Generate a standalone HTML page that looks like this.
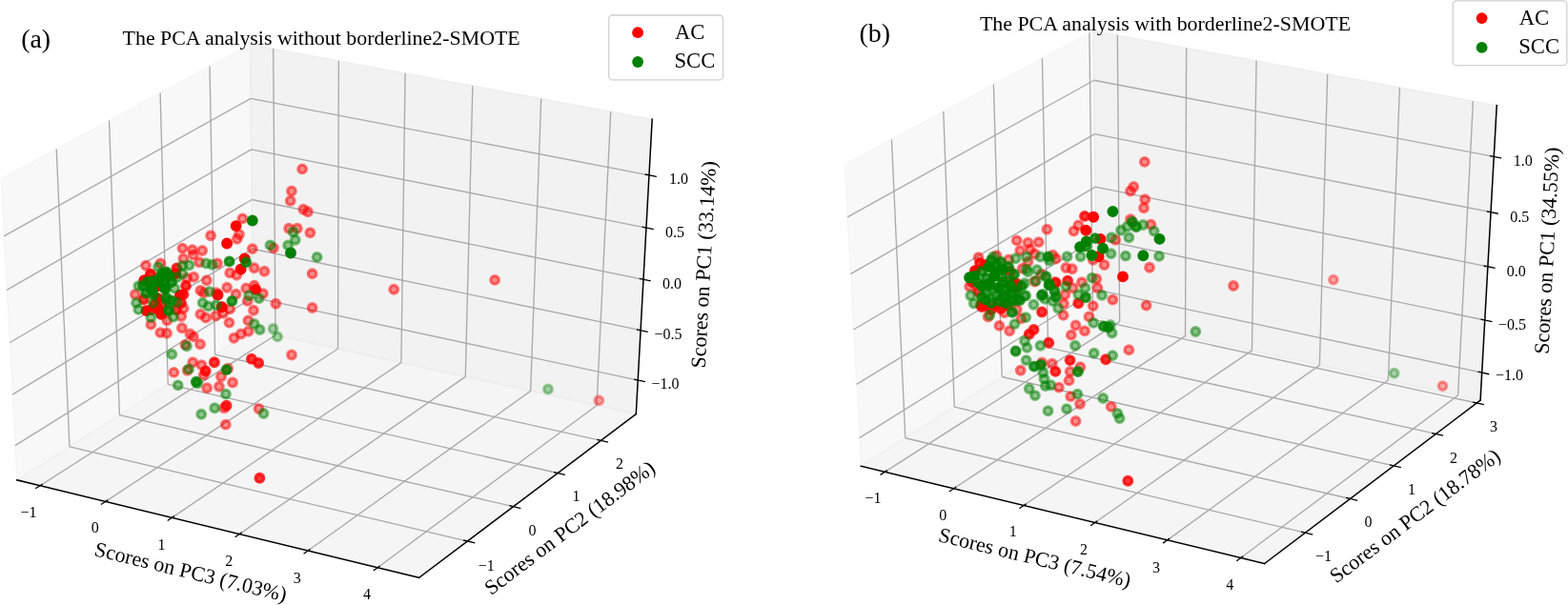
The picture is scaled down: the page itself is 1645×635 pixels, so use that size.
<!DOCTYPE html>
<html><head><meta charset="utf-8"><style>
html,body{margin:0;padding:0;background:#fff;}
svg{display:block;}
.px{fill:#f2f2f2;stroke:#f2f2f2;stroke-width:1.2;fill-opacity:.5;stroke-opacity:.5}
.py{fill:#e6e6e6;stroke:#e6e6e6;stroke-width:1.2;fill-opacity:.5;stroke-opacity:.5}
.pz{fill:#ececec;stroke:#ececec;stroke-width:1.2;fill-opacity:.5;stroke-opacity:.5}
.gr{stroke:#aaaaaa;stroke-width:1.35}
.ax{stroke:#000;stroke-width:1.5;stroke-linecap:square}
.tk{stroke:#000;stroke-width:1.3}
text{font-family:"Liberation Serif","Times New Roman",serif;fill:#000}
.tl{font-size:16px;text-anchor:middle}
.al{font-size:22px;text-anchor:middle}
.r{fill:#ff0000;stroke:#ff0000;stroke-width:3.3}
.g{fill:#008000;stroke:#008000;stroke-width:3.3}
</style></head><body>
<svg width="1645" height="635" viewBox="0 0 1645 635">
<polygon class="px" points="17.80,503.83 265.86,346.62 262.37,46.52 0.91,187.81"/>
<polygon class="py" points="265.86,346.62 667.29,434.58 684.18,125.12 262.37,46.52"/>
<polygon class="pz" points="17.80,503.83 439.70,606.32 667.29,434.58 265.86,346.62"/>
<line class="gr" x1="42.08" y1="509.73" x2="289.04" y2="351.70"/>
<line class="gr" x1="289.04" y1="351.70" x2="286.67" y2="51.05"/>
<line class="gr" x1="110.72" y1="526.40" x2="354.51" y2="366.04"/>
<line class="gr" x1="354.51" y1="366.04" x2="355.36" y2="63.85"/>
<line class="gr" x1="180.42" y1="543.33" x2="420.92" y2="380.59"/>
<line class="gr" x1="420.92" y1="380.59" x2="425.08" y2="76.84"/>
<line class="gr" x1="251.21" y1="560.53" x2="488.29" y2="395.36"/>
<line class="gr" x1="488.29" y1="395.36" x2="495.86" y2="90.03"/>
<line class="gr" x1="323.12" y1="578.00" x2="556.64" y2="410.33"/>
<line class="gr" x1="556.64" y1="410.33" x2="567.73" y2="103.42"/>
<line class="gr" x1="396.17" y1="595.75" x2="626.01" y2="425.53"/>
<line class="gr" x1="626.01" y1="425.53" x2="640.71" y2="117.02"/>
<line class="gr" x1="72.95" y1="468.88" x2="490.43" y2="568.04"/>
<line class="gr" x1="72.95" y1="468.88" x2="59.20" y2="156.31"/>
<line class="gr" x1="125.37" y1="435.66" x2="538.58" y2="531.70"/>
<line class="gr" x1="125.37" y1="435.66" x2="114.53" y2="126.41"/>
<line class="gr" x1="176.22" y1="403.43" x2="585.22" y2="496.51"/>
<line class="gr" x1="176.22" y1="403.43" x2="168.11" y2="97.46"/>
<line class="gr" x1="225.56" y1="372.16" x2="630.42" y2="462.41"/>
<line class="gr" x1="225.56" y1="372.16" x2="220.02" y2="69.41"/>
<line class="gr" x1="15.87" y1="467.63" x2="265.46" y2="312.13"/>
<line class="gr" x1="265.46" y1="312.13" x2="669.23" y2="399.08"/>
<line class="gr" x1="13.01" y1="414.15" x2="264.87" y2="261.23"/>
<line class="gr" x1="264.87" y1="261.23" x2="672.09" y2="346.66"/>
<line class="gr" x1="10.10" y1="359.71" x2="264.27" y2="209.48"/>
<line class="gr" x1="264.27" y1="209.48" x2="675.00" y2="293.33"/>
<line class="gr" x1="7.14" y1="304.29" x2="263.66" y2="156.87"/>
<line class="gr" x1="263.66" y1="156.87" x2="677.96" y2="239.06"/>
<line class="gr" x1="4.12" y1="247.85" x2="263.03" y2="103.36"/>
<line class="gr" x1="263.03" y1="103.36" x2="680.98" y2="183.84"/>
<line class="ax" x1="17.80" y1="503.83" x2="439.70" y2="606.32"/>
<line class="ax" x1="439.70" y1="606.32" x2="667.29" y2="434.58"/>
<line class="ax" x1="667.29" y1="434.58" x2="684.18" y2="125.12"/>
<line class="tk" x1="37.29" y1="512.80" x2="44.74" y2="508.03"/>
<line class="tk" x1="105.98" y1="529.52" x2="113.34" y2="524.68"/>
<line class="tk" x1="175.75" y1="546.50" x2="183.01" y2="541.58"/>
<line class="tk" x1="246.60" y1="563.74" x2="253.77" y2="558.75"/>
<line class="tk" x1="318.58" y1="581.26" x2="325.64" y2="576.19"/>
<line class="tk" x1="391.70" y1="599.06" x2="398.65" y2="593.91"/>
<line class="tk" x1="498.30" y1="569.91" x2="486.06" y2="567.00"/>
<line class="tk" x1="546.37" y1="533.51" x2="534.26" y2="530.70"/>
<line class="tk" x1="592.92" y1="498.26" x2="580.95" y2="495.54"/>
<line class="tk" x1="638.03" y1="464.11" x2="626.19" y2="461.47"/>
<line class="tk" x1="676.83" y1="400.72" x2="665.02" y2="398.17"/>
<line class="tk" x1="679.75" y1="348.27" x2="667.84" y2="345.77"/>
<line class="tk" x1="682.73" y1="294.91" x2="670.71" y2="292.46"/>
<line class="tk" x1="685.77" y1="240.61" x2="673.63" y2="238.21"/>
<line class="tk" x1="688.85" y1="185.35" x2="676.61" y2="183.00"/>
<polygon class="px" points="903.18,489.29 1150.75,332.41 1147.23,32.13 886.10,172.83"/>
<polygon class="py" points="1150.75,332.41 1553.09,420.12 1570.25,110.66 1147.23,32.13"/>
<polygon class="pz" points="903.18,489.29 1326.62,591.51 1553.09,420.12 1150.75,332.41"/>
<line class="gr" x1="928.27" y1="495.35" x2="1174.66" y2="337.63"/>
<line class="gr" x1="1174.66" y1="337.63" x2="1172.32" y2="36.79"/>
<line class="gr" x1="1000.58" y1="512.80" x2="1243.53" y2="352.64"/>
<line class="gr" x1="1243.53" y1="352.64" x2="1244.62" y2="50.21"/>
<line class="gr" x1="1074.05" y1="530.54" x2="1313.43" y2="367.88"/>
<line class="gr" x1="1313.43" y1="367.88" x2="1318.05" y2="63.84"/>
<line class="gr" x1="1148.72" y1="548.56" x2="1384.38" y2="383.35"/>
<line class="gr" x1="1384.38" y1="383.35" x2="1392.65" y2="77.69"/>
<line class="gr" x1="1224.61" y1="566.88" x2="1456.41" y2="399.05"/>
<line class="gr" x1="1456.41" y1="399.05" x2="1468.43" y2="91.76"/>
<line class="gr" x1="1301.76" y1="585.50" x2="1529.54" y2="414.99"/>
<line class="gr" x1="1529.54" y1="414.99" x2="1545.44" y2="106.06"/>
<line class="gr" x1="949.77" y1="459.77" x2="1369.37" y2="559.16"/>
<line class="gr" x1="949.77" y1="459.77" x2="935.40" y2="146.27"/>
<line class="gr" x1="1001.23" y1="427.16" x2="1416.50" y2="523.49"/>
<line class="gr" x1="1001.23" y1="427.16" x2="989.76" y2="116.98"/>
<line class="gr" x1="1051.14" y1="395.53" x2="1462.15" y2="488.94"/>
<line class="gr" x1="1051.14" y1="395.53" x2="1042.40" y2="88.61"/>
<line class="gr" x1="1099.58" y1="364.84" x2="1506.41" y2="455.45"/>
<line class="gr" x1="1099.58" y1="364.84" x2="1093.42" y2="61.12"/>
<line class="gr" x1="1146.61" y1="335.04" x2="1549.32" y2="422.98"/>
<line class="gr" x1="1146.61" y1="335.04" x2="1142.88" y2="34.47"/>
<line class="gr" x1="901.58" y1="459.67" x2="1150.42" y2="304.21"/>
<line class="gr" x1="1150.42" y1="304.21" x2="1554.70" y2="391.11"/>
<line class="gr" x1="898.54" y1="403.39" x2="1149.79" y2="250.67"/>
<line class="gr" x1="1149.79" y1="250.67" x2="1557.75" y2="336.01"/>
<line class="gr" x1="895.45" y1="346.02" x2="1149.15" y2="196.18"/>
<line class="gr" x1="1149.15" y1="196.18" x2="1560.87" y2="279.89"/>
<line class="gr" x1="892.29" y1="287.54" x2="1148.50" y2="140.71"/>
<line class="gr" x1="1148.50" y1="140.71" x2="1564.04" y2="222.71"/>
<line class="gr" x1="889.07" y1="227.92" x2="1147.84" y2="84.24"/>
<line class="gr" x1="1147.84" y1="84.24" x2="1567.27" y2="164.46"/>
<line class="ax" x1="903.18" y1="489.29" x2="1326.62" y2="591.51"/>
<line class="ax" x1="1326.62" y1="591.51" x2="1553.09" y2="420.12"/>
<line class="ax" x1="1553.09" y1="420.12" x2="1570.25" y2="110.66"/>
<line class="tk" x1="923.48" y1="498.41" x2="930.92" y2="493.65"/>
<line class="tk" x1="995.85" y1="515.92" x2="1003.19" y2="511.08"/>
<line class="tk" x1="1069.39" y1="533.70" x2="1076.63" y2="528.79"/>
<line class="tk" x1="1144.13" y1="551.78" x2="1151.26" y2="546.78"/>
<line class="tk" x1="1220.09" y1="570.15" x2="1227.11" y2="565.07"/>
<line class="tk" x1="1297.32" y1="588.83" x2="1304.22" y2="583.66"/>
<line class="tk" x1="1377.27" y1="561.03" x2="1364.98" y2="558.12"/>
<line class="tk" x1="1424.32" y1="525.31" x2="1412.16" y2="522.49"/>
<line class="tk" x1="1469.89" y1="490.70" x2="1457.86" y2="487.96"/>
<line class="tk" x1="1514.06" y1="457.16" x2="1502.16" y2="454.51"/>
<line class="tk" x1="1556.89" y1="424.63" x2="1545.12" y2="422.06"/>
<line class="tk" x1="1562.30" y1="392.75" x2="1550.48" y2="390.21"/>
<line class="tk" x1="1565.43" y1="337.62" x2="1553.50" y2="335.12"/>
<line class="tk" x1="1568.61" y1="281.46" x2="1556.57" y2="279.01"/>
<line class="tk" x1="1571.86" y1="224.26" x2="1559.70" y2="221.86"/>
<line class="tk" x1="1575.16" y1="165.97" x2="1562.88" y2="163.62"/>
<circle class="r" cx="628.3" cy="420.3" r="4.3" fill-opacity="0.312" stroke-opacity="0.368"/>
<circle class="r" cx="254.4" cy="229.4" r="4.3" fill-opacity="0.429" stroke-opacity="0.506"/>
<circle class="r" cx="251.0" cy="246.0" r="4.3" fill-opacity="0.429" stroke-opacity="0.506"/>
<circle class="r" cx="248.7" cy="250.7" r="4.3" fill-opacity="0.429" stroke-opacity="0.506"/>
<circle class="r" cx="221.1" cy="247.3" r="4.3" fill-opacity="0.429" stroke-opacity="0.506"/>
<circle class="r" cx="264.8" cy="261.1" r="4.3" fill-opacity="0.429" stroke-opacity="0.506"/>
<circle class="r" cx="286.9" cy="260.2" r="4.3" fill-opacity="0.429" stroke-opacity="0.506"/>
<circle class="r" cx="191.4" cy="260.6" r="4.3" fill-opacity="0.429" stroke-opacity="0.506"/>
<circle class="r" cx="201.8" cy="262.1" r="4.3" fill-opacity="0.429" stroke-opacity="0.506"/>
<circle class="r" cx="212.2" cy="263.0" r="4.3" fill-opacity="0.429" stroke-opacity="0.506"/>
<circle class="r" cx="202.8" cy="267.4" r="4.3" fill-opacity="0.429" stroke-opacity="0.506"/>
<circle class="r" cx="192.4" cy="271.5" r="4.3" fill-opacity="0.429" stroke-opacity="0.506"/>
<circle class="r" cx="317.1" cy="177.4" r="4.3" fill-opacity="0.429" stroke-opacity="0.506"/>
<circle class="r" cx="305.9" cy="200.5" r="4.3" fill-opacity="0.429" stroke-opacity="0.506"/>
<circle class="r" cx="304.7" cy="210.7" r="4.3" fill-opacity="0.429" stroke-opacity="0.506"/>
<circle class="r" cx="318.3" cy="219.8" r="4.3" fill-opacity="0.429" stroke-opacity="0.506"/>
<circle class="r" cx="322.9" cy="222.3" r="4.3" fill-opacity="0.429" stroke-opacity="0.506"/>
<circle class="r" cx="303.1" cy="239.7" r="4.3" fill-opacity="0.429" stroke-opacity="0.506"/>
<circle class="r" cx="311.8" cy="239.7" r="4.3" fill-opacity="0.429" stroke-opacity="0.506"/>
<circle class="r" cx="325.4" cy="244.3" r="4.3" fill-opacity="0.429" stroke-opacity="0.506"/>
<circle class="r" cx="153.0" cy="278.7" r="4.3" fill-opacity="0.429" stroke-opacity="0.506"/>
<circle class="r" cx="168.4" cy="276.5" r="4.3" fill-opacity="0.429" stroke-opacity="0.506"/>
<circle class="r" cx="141.8" cy="309.0" r="4.3" fill-opacity="0.429" stroke-opacity="0.506"/>
<circle class="r" cx="158.3" cy="288.3" r="4.3" fill-opacity="0.429" stroke-opacity="0.506"/>
<circle class="r" cx="209.1" cy="275.3" r="4.3" fill-opacity="0.429" stroke-opacity="0.506"/>
<circle class="r" cx="203.2" cy="290.7" r="4.3" fill-opacity="0.429" stroke-opacity="0.506"/>
<circle class="r" cx="196.1" cy="291.9" r="4.3" fill-opacity="0.429" stroke-opacity="0.506"/>
<circle class="r" cx="216.8" cy="294.2" r="4.3" fill-opacity="0.429" stroke-opacity="0.506"/>
<circle class="r" cx="210.3" cy="304.9" r="4.3" fill-opacity="0.429" stroke-opacity="0.506"/>
<circle class="r" cx="213.8" cy="307.2" r="4.3" fill-opacity="0.429" stroke-opacity="0.506"/>
<circle class="r" cx="228.0" cy="276.5" r="4.3" fill-opacity="0.429" stroke-opacity="0.506"/>
<circle class="r" cx="192.6" cy="323.8" r="4.3" fill-opacity="0.429" stroke-opacity="0.506"/>
<circle class="r" cx="210.3" cy="329.7" r="4.3" fill-opacity="0.429" stroke-opacity="0.506"/>
<circle class="r" cx="190.2" cy="332.0" r="4.3" fill-opacity="0.429" stroke-opacity="0.506"/>
<circle class="r" cx="226.8" cy="307.2" r="4.3" fill-opacity="0.429" stroke-opacity="0.506"/>
<circle class="r" cx="266.7" cy="281.2" r="4.3" fill-opacity="0.429" stroke-opacity="0.506"/>
<circle class="r" cx="277.4" cy="284.7" r="4.3" fill-opacity="0.429" stroke-opacity="0.506"/>
<circle class="r" cx="327.6" cy="287.3" r="4.3" fill-opacity="0.429" stroke-opacity="0.506"/>
<circle class="r" cx="241.2" cy="286.4" r="4.3" fill-opacity="0.429" stroke-opacity="0.506"/>
<circle class="r" cx="248.3" cy="288.7" r="4.3" fill-opacity="0.429" stroke-opacity="0.506"/>
<circle class="r" cx="238.1" cy="301.7" r="4.3" fill-opacity="0.429" stroke-opacity="0.506"/>
<circle class="r" cx="258.2" cy="302.5" r="4.3" fill-opacity="0.429" stroke-opacity="0.506"/>
<circle class="r" cx="266.7" cy="299.6" r="4.3" fill-opacity="0.429" stroke-opacity="0.506"/>
<circle class="r" cx="275.9" cy="308.1" r="4.3" fill-opacity="0.429" stroke-opacity="0.506"/>
<circle class="r" cx="247.6" cy="308.8" r="4.3" fill-opacity="0.429" stroke-opacity="0.506"/>
<circle class="r" cx="259.7" cy="315.9" r="4.3" fill-opacity="0.429" stroke-opacity="0.506"/>
<circle class="r" cx="289.4" cy="318.7" r="4.3" fill-opacity="0.429" stroke-opacity="0.506"/>
<circle class="r" cx="327.6" cy="323.0" r="4.3" fill-opacity="0.429" stroke-opacity="0.506"/>
<circle class="r" cx="241.2" cy="324.4" r="4.3" fill-opacity="0.429" stroke-opacity="0.506"/>
<circle class="r" cx="266.0" cy="325.8" r="4.3" fill-opacity="0.429" stroke-opacity="0.506"/>
<circle class="r" cx="226.4" cy="331.5" r="4.3" fill-opacity="0.429" stroke-opacity="0.506"/>
<circle class="r" cx="234.2" cy="328.7" r="4.3" fill-opacity="0.429" stroke-opacity="0.506"/>
<circle class="r" cx="240.5" cy="338.6" r="4.3" fill-opacity="0.429" stroke-opacity="0.506"/>
<circle class="r" cx="260.4" cy="336.4" r="4.3" fill-opacity="0.429" stroke-opacity="0.506"/>
<circle class="r" cx="158.3" cy="340.6" r="4.3" fill-opacity="0.429" stroke-opacity="0.506"/>
<circle class="r" cx="175.3" cy="336.4" r="4.3" fill-opacity="0.429" stroke-opacity="0.506"/>
<circle class="r" cx="168.2" cy="349.1" r="4.3" fill-opacity="0.429" stroke-opacity="0.506"/>
<circle class="r" cx="175.0" cy="349.8" r="4.3" fill-opacity="0.429" stroke-opacity="0.506"/>
<circle class="r" cx="190.9" cy="344.2" r="4.3" fill-opacity="0.429" stroke-opacity="0.506"/>
<circle class="r" cx="199.4" cy="350.5" r="4.3" fill-opacity="0.429" stroke-opacity="0.506"/>
<circle class="r" cx="202.9" cy="353.4" r="4.3" fill-opacity="0.429" stroke-opacity="0.506"/>
<circle class="r" cx="210.0" cy="361.2" r="4.3" fill-opacity="0.429" stroke-opacity="0.506"/>
<circle class="r" cx="194.4" cy="361.9" r="4.3" fill-opacity="0.429" stroke-opacity="0.506"/>
<circle class="r" cx="245.4" cy="354.8" r="4.3" fill-opacity="0.429" stroke-opacity="0.506"/>
<circle class="r" cx="216.0" cy="333.5" r="4.3" fill-opacity="0.429" stroke-opacity="0.506"/>
<circle class="r" cx="202.2" cy="380.3" r="4.3" fill-opacity="0.429" stroke-opacity="0.506"/>
<circle class="r" cx="211.4" cy="383.1" r="4.3" fill-opacity="0.429" stroke-opacity="0.506"/>
<circle class="r" cx="213.6" cy="393.7" r="4.3" fill-opacity="0.429" stroke-opacity="0.506"/>
<circle class="r" cx="182.4" cy="390.9" r="4.3" fill-opacity="0.429" stroke-opacity="0.506"/>
<circle class="r" cx="196.6" cy="388.8" r="4.3" fill-opacity="0.429" stroke-opacity="0.506"/>
<circle class="r" cx="239.1" cy="386.7" r="4.3" fill-opacity="0.429" stroke-opacity="0.506"/>
<circle class="r" cx="232.0" cy="395.2" r="4.3" fill-opacity="0.429" stroke-opacity="0.506"/>
<circle class="r" cx="244.0" cy="401.5" r="4.3" fill-opacity="0.429" stroke-opacity="0.506"/>
<circle class="r" cx="217.1" cy="407.2" r="4.3" fill-opacity="0.429" stroke-opacity="0.506"/>
<circle class="r" cx="229.9" cy="405.8" r="4.3" fill-opacity="0.429" stroke-opacity="0.506"/>
<circle class="r" cx="260.6" cy="347.7" r="4.3" fill-opacity="0.429" stroke-opacity="0.506"/>
<circle class="r" cx="252.8" cy="350.5" r="4.3" fill-opacity="0.429" stroke-opacity="0.506"/>
<circle class="r" cx="306.0" cy="372.5" r="4.3" fill-opacity="0.429" stroke-opacity="0.506"/>
<circle class="r" cx="235.2" cy="428.2" r="4.3" fill-opacity="0.429" stroke-opacity="0.506"/>
<circle class="r" cx="236.8" cy="445.6" r="4.3" fill-opacity="0.429" stroke-opacity="0.506"/>
<circle class="r" cx="271.5" cy="429.0" r="4.3" fill-opacity="0.429" stroke-opacity="0.506"/>
<circle class="r" cx="413.2" cy="303.7" r="4.3" fill-opacity="0.429" stroke-opacity="0.506"/>
<circle class="r" cx="519.1" cy="293.9" r="4.3" fill-opacity="0.429" stroke-opacity="0.506"/>
<circle class="r" cx="224.9" cy="380.3" r="4.3" fill-opacity="0.78" stroke-opacity="0.78"/>
<circle class="r" cx="215.7" cy="389.5" r="4.3" fill-opacity="0.78" stroke-opacity="0.78"/>
<circle class="r" cx="263.9" cy="376.7" r="4.3" fill-opacity="0.78" stroke-opacity="0.78"/>
<circle class="r" cx="271.2" cy="381.0" r="4.3" fill-opacity="0.78" stroke-opacity="0.78"/>
<circle class="r" cx="237.6" cy="425.7" r="4.3" fill-opacity="0.78" stroke-opacity="0.78"/>
<circle class="r" cx="272.4" cy="501.8" r="4.3" fill-opacity="0.78" stroke-opacity="0.78"/>
<circle class="r" cx="185.4" cy="281.5" r="4.3" fill-opacity="0.78" stroke-opacity="0.78"/>
<circle class="r" cx="157.8" cy="287.8" r="4.3" fill-opacity="0.78" stroke-opacity="0.78"/>
<circle class="r" cx="150.7" cy="314.2" r="4.3" fill-opacity="0.78" stroke-opacity="0.78"/>
<circle class="r" cx="158.6" cy="325.2" r="4.3" fill-opacity="0.78" stroke-opacity="0.78"/>
<circle class="r" cx="192.5" cy="309.1" r="4.3" fill-opacity="0.78" stroke-opacity="0.78"/>
<circle class="r" cx="162" cy="320" r="4.3" fill-opacity="0.78" stroke-opacity="0.78"/>
<circle class="r" cx="170" cy="320" r="4.3" fill-opacity="0.78" stroke-opacity="0.78"/>
<circle class="r" cx="185" cy="325" r="4.3" fill-opacity="0.78" stroke-opacity="0.78"/>
<circle class="r" cx="195" cy="300" r="4.3" fill-opacity="0.78" stroke-opacity="0.78"/>
<circle class="r" cx="190" cy="318" r="4.3" fill-opacity="0.78" stroke-opacity="0.78"/>
<circle class="r" cx="247.6" cy="237.1" r="4.3"/>
<circle class="r" cx="238.1" cy="255.5" r="4.3"/>
<circle class="r" cx="256.7" cy="271.5" r="4.3"/>
<circle class="r" cx="151.3" cy="294.2" r="4.3"/>
<circle class="r" cx="166.6" cy="300.1" r="4.3"/>
<circle class="r" cx="165.4" cy="313.1" r="4.3"/>
<circle class="r" cx="189.0" cy="309.6" r="4.3"/>
<circle class="r" cx="153.6" cy="326.1" r="4.3"/>
<circle class="r" cx="165.4" cy="323.8" r="4.3"/>
<circle class="r" cx="169.0" cy="329.7" r="4.3"/>
<circle class="r" cx="184.3" cy="287.2" r="4.3"/>
<circle class="r" cx="252.6" cy="282.6" r="4.3"/>
<circle class="r" cx="268.2" cy="303.9" r="4.3"/>
<circle class="r" cx="228.5" cy="309.5" r="4.3"/>
<circle class="r" cx="232.7" cy="322.3" r="4.3"/>
<circle class="g" cx="286.6" cy="345.0" r="4.3" fill-opacity="0.312" stroke-opacity="0.368"/>
<circle class="g" cx="291.1" cy="353.4" r="4.3" fill-opacity="0.312" stroke-opacity="0.368"/>
<circle class="g" cx="575.0" cy="408.5" r="4.3" fill-opacity="0.312" stroke-opacity="0.368"/>
<circle class="g" cx="283.5" cy="257.4" r="4.3" fill-opacity="0.429" stroke-opacity="0.506"/>
<circle class="g" cx="307.7" cy="243.5" r="4.3" fill-opacity="0.429" stroke-opacity="0.506"/>
<circle class="g" cx="309.7" cy="251.7" r="4.3" fill-opacity="0.429" stroke-opacity="0.506"/>
<circle class="g" cx="302.2" cy="257.5" r="4.3" fill-opacity="0.429" stroke-opacity="0.506"/>
<circle class="g" cx="166.0" cy="280.1" r="4.3" fill-opacity="0.429" stroke-opacity="0.506"/>
<circle class="g" cx="198.5" cy="278.3" r="4.3" fill-opacity="0.429" stroke-opacity="0.506"/>
<circle class="g" cx="191.4" cy="278.9" r="4.3" fill-opacity="0.429" stroke-opacity="0.506"/>
<circle class="g" cx="216.2" cy="276.5" r="4.3" fill-opacity="0.429" stroke-opacity="0.506"/>
<circle class="g" cx="222.7" cy="277.7" r="4.3" fill-opacity="0.429" stroke-opacity="0.506"/>
<circle class="g" cx="191.4" cy="287.2" r="4.3" fill-opacity="0.429" stroke-opacity="0.506"/>
<circle class="g" cx="185.5" cy="291.3" r="4.3" fill-opacity="0.429" stroke-opacity="0.506"/>
<circle class="g" cx="145.3" cy="300.1" r="4.3" fill-opacity="0.429" stroke-opacity="0.506"/>
<circle class="g" cx="160.1" cy="294.8" r="4.3" fill-opacity="0.429" stroke-opacity="0.506"/>
<circle class="g" cx="183.1" cy="302.5" r="4.3" fill-opacity="0.429" stroke-opacity="0.506"/>
<circle class="g" cx="143.0" cy="317.9" r="4.3" fill-opacity="0.429" stroke-opacity="0.506"/>
<circle class="g" cx="145.3" cy="324.9" r="4.3" fill-opacity="0.429" stroke-opacity="0.506"/>
<circle class="g" cx="160.7" cy="317.9" r="4.3" fill-opacity="0.429" stroke-opacity="0.506"/>
<circle class="g" cx="174.9" cy="315.5" r="4.3" fill-opacity="0.429" stroke-opacity="0.506"/>
<circle class="g" cx="185.5" cy="317.3" r="4.3" fill-opacity="0.429" stroke-opacity="0.506"/>
<circle class="g" cx="176.6" cy="325.5" r="4.3" fill-opacity="0.429" stroke-opacity="0.506"/>
<circle class="g" cx="219.7" cy="306.0" r="4.3" fill-opacity="0.429" stroke-opacity="0.506"/>
<circle class="g" cx="212.6" cy="317.9" r="4.3" fill-opacity="0.429" stroke-opacity="0.506"/>
<circle class="g" cx="218.5" cy="321.4" r="4.3" fill-opacity="0.429" stroke-opacity="0.506"/>
<circle class="g" cx="226.8" cy="320.2" r="4.3" fill-opacity="0.429" stroke-opacity="0.506"/>
<circle class="g" cx="158.3" cy="333.2" r="4.3" fill-opacity="0.429" stroke-opacity="0.506"/>
<circle class="g" cx="181.9" cy="332.6" r="4.3" fill-opacity="0.429" stroke-opacity="0.506"/>
<circle class="g" cx="332.6" cy="269.9" r="4.3" fill-opacity="0.429" stroke-opacity="0.506"/>
<circle class="g" cx="261.1" cy="310.2" r="4.3" fill-opacity="0.429" stroke-opacity="0.506"/>
<circle class="g" cx="271.7" cy="313.1" r="4.3" fill-opacity="0.429" stroke-opacity="0.506"/>
<circle class="g" cx="266.7" cy="340.0" r="4.3" fill-opacity="0.429" stroke-opacity="0.506"/>
<circle class="g" cx="272.5" cy="346.0" r="4.3" fill-opacity="0.429" stroke-opacity="0.506"/>
<circle class="g" cx="195.9" cy="363.3" r="4.3" fill-opacity="0.429" stroke-opacity="0.506"/>
<circle class="g" cx="180.3" cy="371.8" r="4.3" fill-opacity="0.429" stroke-opacity="0.506"/>
<circle class="g" cx="198.0" cy="387.4" r="4.3" fill-opacity="0.429" stroke-opacity="0.506"/>
<circle class="g" cx="186.7" cy="404.4" r="4.3" fill-opacity="0.429" stroke-opacity="0.506"/>
<circle class="g" cx="207.2" cy="402.2" r="4.3" fill-opacity="0.429" stroke-opacity="0.506"/>
<circle class="g" cx="236.9" cy="413.6" r="4.3" fill-opacity="0.429" stroke-opacity="0.506"/>
<circle class="g" cx="225.2" cy="428.2" r="4.3" fill-opacity="0.429" stroke-opacity="0.506"/>
<circle class="g" cx="211.2" cy="434.8" r="4.3" fill-opacity="0.429" stroke-opacity="0.506"/>
<circle class="g" cx="276.5" cy="434.0" r="4.3" fill-opacity="0.429" stroke-opacity="0.506"/>
<circle class="g" cx="240.6" cy="274.4" r="4.3" fill-opacity="0.78" stroke-opacity="0.78"/>
<circle class="g" cx="258.2" cy="275.3" r="4.3" fill-opacity="0.78" stroke-opacity="0.78"/>
<circle class="g" cx="174.9" cy="287.2" r="4.3" fill-opacity="0.78" stroke-opacity="0.78"/>
<circle class="g" cx="173.7" cy="302.5" r="4.3" fill-opacity="0.78" stroke-opacity="0.78"/>
<circle class="g" cx="159.5" cy="304.9" r="4.3" fill-opacity="0.78" stroke-opacity="0.78"/>
<circle class="g" cx="160.7" cy="295.4" r="4.3" fill-opacity="0.78" stroke-opacity="0.78"/>
<circle class="g" cx="168" cy="292" r="4.3" fill-opacity="0.78" stroke-opacity="0.78"/>
<circle class="g" cx="180" cy="296" r="4.3" fill-opacity="0.78" stroke-opacity="0.78"/>
<circle class="g" cx="243.4" cy="315.9" r="4.3" fill-opacity="0.78" stroke-opacity="0.78"/>
<circle class="g" cx="237.6" cy="388.1" r="4.3" fill-opacity="0.78" stroke-opacity="0.78"/>
<circle class="g" cx="205.8" cy="400.8" r="4.3" fill-opacity="0.78" stroke-opacity="0.78"/>
<circle class="g" cx="168.1" cy="291" r="4.3" fill-opacity="0.78" stroke-opacity="0.78"/>
<circle class="g" cx="172.8" cy="298.1" r="4.3" fill-opacity="0.78" stroke-opacity="0.78"/>
<circle class="g" cx="153.1" cy="307.5" r="4.3" fill-opacity="0.78" stroke-opacity="0.78"/>
<circle class="g" cx="161" cy="309.1" r="4.3" fill-opacity="0.78" stroke-opacity="0.78"/>
<circle class="g" cx="174.4" cy="312.2" r="4.3" fill-opacity="0.78" stroke-opacity="0.78"/>
<circle class="g" cx="179.9" cy="315.7" r="4.3" fill-opacity="0.78" stroke-opacity="0.78"/>
<circle class="g" cx="165" cy="296" r="4.3" fill-opacity="0.78" stroke-opacity="0.78"/>
<circle class="g" cx="178" cy="290" r="4.3" fill-opacity="0.78" stroke-opacity="0.78"/>
<circle class="g" cx="170" cy="287" r="4.3" fill-opacity="0.78" stroke-opacity="0.78"/>
<circle class="g" cx="150" cy="300" r="4.3" fill-opacity="0.78" stroke-opacity="0.78"/>
<circle class="g" cx="155" cy="296" r="4.3" fill-opacity="0.78" stroke-opacity="0.78"/>
<circle class="g" cx="174.4" cy="285.5" r="4.3" fill-opacity="0.78" stroke-opacity="0.78"/>
<circle class="g" cx="176.7" cy="326" r="4.3" fill-opacity="0.78" stroke-opacity="0.78"/>
<circle class="g" cx="158.6" cy="303.1" r="4.3" fill-opacity="0.78" stroke-opacity="0.78"/>
<circle class="g" cx="172.8" cy="303.1" r="4.3" fill-opacity="0.78" stroke-opacity="0.78"/>
<circle class="g" cx="264.8" cy="231.5" r="4.3"/>
<circle class="g" cx="305.0" cy="265.5" r="4.3"/>
<circle class="r" cx="1398.9" cy="293.6" r="4.3" fill-opacity="0.312" stroke-opacity="0.368"/>
<circle class="r" cx="1513.5" cy="405.1" r="4.3" fill-opacity="0.312" stroke-opacity="0.368"/>
<circle class="r" cx="1200.8" cy="169.9" r="4.3" fill-opacity="0.429" stroke-opacity="0.506"/>
<circle class="r" cx="1189.3" cy="196.0" r="4.3" fill-opacity="0.429" stroke-opacity="0.506"/>
<circle class="r" cx="1186.0" cy="200.5" r="4.3" fill-opacity="0.429" stroke-opacity="0.506"/>
<circle class="r" cx="1201.2" cy="209.3" r="4.3" fill-opacity="0.429" stroke-opacity="0.506"/>
<circle class="r" cx="1200.0" cy="218.2" r="4.3" fill-opacity="0.429" stroke-opacity="0.506"/>
<circle class="r" cx="1131.4" cy="236.4" r="4.3" fill-opacity="0.429" stroke-opacity="0.506"/>
<circle class="r" cx="1126.4" cy="242.6" r="4.3" fill-opacity="0.429" stroke-opacity="0.506"/>
<circle class="r" cx="1098.4" cy="240.7" r="4.3" fill-opacity="0.429" stroke-opacity="0.506"/>
<circle class="r" cx="1186.0" cy="230.2" r="4.3" fill-opacity="0.429" stroke-opacity="0.506"/>
<circle class="r" cx="1207.4" cy="235.7" r="4.3" fill-opacity="0.429" stroke-opacity="0.506"/>
<circle class="r" cx="1170.2" cy="251.7" r="4.3" fill-opacity="0.429" stroke-opacity="0.506"/>
<circle class="r" cx="1026.5" cy="270.1" r="4.3" fill-opacity="0.429" stroke-opacity="0.506"/>
<circle class="r" cx="1045.4" cy="268.3" r="4.3" fill-opacity="0.429" stroke-opacity="0.506"/>
<circle class="r" cx="1066.7" cy="252.4" r="4.3" fill-opacity="0.429" stroke-opacity="0.506"/>
<circle class="r" cx="1078.5" cy="254.7" r="4.3" fill-opacity="0.429" stroke-opacity="0.506"/>
<circle class="r" cx="1089.7" cy="254.1" r="4.3" fill-opacity="0.429" stroke-opacity="0.506"/>
<circle class="r" cx="1070.2" cy="263.0" r="4.3" fill-opacity="0.429" stroke-opacity="0.506"/>
<circle class="r" cx="1080.8" cy="261.8" r="4.3" fill-opacity="0.429" stroke-opacity="0.506"/>
<circle class="r" cx="1085.6" cy="266.5" r="4.3" fill-opacity="0.429" stroke-opacity="0.506"/>
<circle class="r" cx="1058.4" cy="272.4" r="4.3" fill-opacity="0.429" stroke-opacity="0.506"/>
<circle class="r" cx="1078.5" cy="274.8" r="4.3" fill-opacity="0.429" stroke-opacity="0.506"/>
<circle class="r" cx="1104.5" cy="267.7" r="4.3" fill-opacity="0.429" stroke-opacity="0.506"/>
<circle class="r" cx="1072.6" cy="281.9" r="4.3" fill-opacity="0.429" stroke-opacity="0.506"/>
<circle class="r" cx="1092.6" cy="287.8" r="4.3" fill-opacity="0.429" stroke-opacity="0.506"/>
<circle class="r" cx="1085.6" cy="295.5" r="4.3" fill-opacity="0.429" stroke-opacity="0.506"/>
<circle class="r" cx="1017.1" cy="300.8" r="4.3" fill-opacity="0.429" stroke-opacity="0.506"/>
<circle class="r" cx="1106.8" cy="296.0" r="4.3" fill-opacity="0.429" stroke-opacity="0.506"/>
<circle class="r" cx="1034.9" cy="321.8" r="4.3" fill-opacity="0.429" stroke-opacity="0.506"/>
<circle class="r" cx="1040.8" cy="320.7" r="4.3" fill-opacity="0.429" stroke-opacity="0.506"/>
<circle class="r" cx="1046.7" cy="320.1" r="4.3" fill-opacity="0.429" stroke-opacity="0.506"/>
<circle class="r" cx="1036.6" cy="332.5" r="4.3" fill-opacity="0.429" stroke-opacity="0.506"/>
<circle class="r" cx="1053.8" cy="328.3" r="4.3" fill-opacity="0.429" stroke-opacity="0.506"/>
<circle class="r" cx="1066.7" cy="324.8" r="4.3" fill-opacity="0.429" stroke-opacity="0.506"/>
<circle class="r" cx="1071.5" cy="334.2" r="4.3" fill-opacity="0.429" stroke-opacity="0.506"/>
<circle class="r" cx="1048.4" cy="341.9" r="4.3" fill-opacity="0.429" stroke-opacity="0.506"/>
<circle class="r" cx="1059.1" cy="347.2" r="4.3" fill-opacity="0.429" stroke-opacity="0.506"/>
<circle class="r" cx="1146.7" cy="272.7" r="4.3" fill-opacity="0.429" stroke-opacity="0.506"/>
<circle class="r" cx="1158.5" cy="278.0" r="4.3" fill-opacity="0.429" stroke-opacity="0.506"/>
<circle class="r" cx="1107.7" cy="271.5" r="4.3" fill-opacity="0.429" stroke-opacity="0.506"/>
<circle class="r" cx="1118.3" cy="281.0" r="4.3" fill-opacity="0.429" stroke-opacity="0.506"/>
<circle class="r" cx="1124.8" cy="282.2" r="4.3" fill-opacity="0.429" stroke-opacity="0.506"/>
<circle class="r" cx="1150.2" cy="292.8" r="4.3" fill-opacity="0.429" stroke-opacity="0.506"/>
<circle class="r" cx="1134.9" cy="296.3" r="4.3" fill-opacity="0.429" stroke-opacity="0.506"/>
<circle class="r" cx="1151.4" cy="302.2" r="4.3" fill-opacity="0.429" stroke-opacity="0.506"/>
<circle class="r" cx="1167.3" cy="314.6" r="4.3" fill-opacity="0.429" stroke-opacity="0.506"/>
<circle class="r" cx="1146.7" cy="321.1" r="4.3" fill-opacity="0.429" stroke-opacity="0.506"/>
<circle class="r" cx="1117.2" cy="309.3" r="4.3" fill-opacity="0.429" stroke-opacity="0.506"/>
<circle class="r" cx="1116.0" cy="318.8" r="4.3" fill-opacity="0.429" stroke-opacity="0.506"/>
<circle class="r" cx="1125.4" cy="302.2" r="4.3" fill-opacity="0.429" stroke-opacity="0.506"/>
<circle class="r" cx="1070.7" cy="388.8" r="4.3" fill-opacity="0.429" stroke-opacity="0.506"/>
<circle class="r" cx="1093.1" cy="380.5" r="4.3" fill-opacity="0.429" stroke-opacity="0.506"/>
<circle class="r" cx="1103.8" cy="381.7" r="4.3" fill-opacity="0.429" stroke-opacity="0.506"/>
<circle class="r" cx="1115.6" cy="330.9" r="4.3" fill-opacity="0.429" stroke-opacity="0.506"/>
<circle class="r" cx="1128.5" cy="341.5" r="4.3" fill-opacity="0.429" stroke-opacity="0.506"/>
<circle class="r" cx="1123.8" cy="351.6" r="4.3" fill-opacity="0.429" stroke-opacity="0.506"/>
<circle class="r" cx="1138.0" cy="347.4" r="4.3" fill-opacity="0.429" stroke-opacity="0.506"/>
<circle class="r" cx="1122.6" cy="390.0" r="4.3" fill-opacity="0.429" stroke-opacity="0.506"/>
<circle class="r" cx="1133.3" cy="385.2" r="4.3" fill-opacity="0.429" stroke-opacity="0.506"/>
<circle class="r" cx="1121.5" cy="399.4" r="4.3" fill-opacity="0.429" stroke-opacity="0.506"/>
<circle class="r" cx="1142.4" cy="332.4" r="4.3" fill-opacity="0.429" stroke-opacity="0.506"/>
<circle class="r" cx="1184.3" cy="367.2" r="4.3" fill-opacity="0.429" stroke-opacity="0.506"/>
<circle class="r" cx="1202.6" cy="320.6" r="4.3" fill-opacity="0.429" stroke-opacity="0.506"/>
<circle class="r" cx="1110.9" cy="406.6" r="4.3" fill-opacity="0.429" stroke-opacity="0.506"/>
<circle class="r" cx="1123.2" cy="416.1" r="4.3" fill-opacity="0.429" stroke-opacity="0.506"/>
<circle class="r" cx="1133.0" cy="424.0" r="4.3" fill-opacity="0.429" stroke-opacity="0.506"/>
<circle class="r" cx="1128.5" cy="442.0" r="4.3" fill-opacity="0.429" stroke-opacity="0.506"/>
<circle class="r" cx="1165.7" cy="426.9" r="4.3" fill-opacity="0.429" stroke-opacity="0.506"/>
<circle class="r" cx="1206.0" cy="280.7" r="4.3" fill-opacity="0.429" stroke-opacity="0.506"/>
<circle class="r" cx="1294.0" cy="300.0" r="4.3" fill-opacity="0.429" stroke-opacity="0.506"/>
<circle class="r" cx="1138.0" cy="226.9" r="4.3" fill-opacity="0.78" stroke-opacity="0.78"/>
<circle class="r" cx="1060" cy="285" r="4.3" fill-opacity="0.78" stroke-opacity="0.78"/>
<circle class="r" cx="1063" cy="296" r="4.3" fill-opacity="0.78" stroke-opacity="0.78"/>
<circle class="r" cx="1026" cy="306" r="4.3" fill-opacity="0.78" stroke-opacity="0.78"/>
<circle class="r" cx="1057" cy="320" r="4.3" fill-opacity="0.78" stroke-opacity="0.78"/>
<circle class="r" cx="1029.0" cy="320.1" r="4.3" fill-opacity="0.78" stroke-opacity="0.78"/>
<circle class="r" cx="1084.5" cy="346.0" r="4.3" fill-opacity="0.78" stroke-opacity="0.78"/>
<circle class="r" cx="1079.7" cy="350.8" r="4.3" fill-opacity="0.78" stroke-opacity="0.78"/>
<circle class="r" cx="1120.1" cy="294.6" r="4.3" fill-opacity="0.78" stroke-opacity="0.78"/>
<circle class="r" cx="1107.7" cy="296.9" r="4.3" fill-opacity="0.78" stroke-opacity="0.78"/>
<circle class="r" cx="1131.3" cy="318.2" r="4.3" fill-opacity="0.78" stroke-opacity="0.78"/>
<circle class="r" cx="1100.2" cy="359.8" r="4.3" fill-opacity="0.78" stroke-opacity="0.78"/>
<circle class="r" cx="1107.3" cy="389.9" r="4.3" fill-opacity="0.78" stroke-opacity="0.78"/>
<circle class="r" cx="1093.1" cy="327.5" r="4.3" fill-opacity="0.78" stroke-opacity="0.78"/>
<circle class="r" cx="1122.6" cy="378.1" r="4.3" fill-opacity="0.78" stroke-opacity="0.78"/>
<circle class="r" cx="1160.1" cy="377.3" r="4.3" fill-opacity="0.78" stroke-opacity="0.78"/>
<circle class="r" cx="1183.3" cy="504.7" r="4.3" fill-opacity="0.78" stroke-opacity="0.78"/>
<circle class="r" cx="1030" cy="322" r="4.3" fill-opacity="0.78" stroke-opacity="0.78"/>
<circle class="r" cx="1040" cy="325" r="4.3" fill-opacity="0.78" stroke-opacity="0.78"/>
<circle class="r" cx="1050" cy="324" r="4.3" fill-opacity="0.78" stroke-opacity="0.78"/>
<circle class="r" cx="1067" cy="298" r="4.3" fill-opacity="0.78" stroke-opacity="0.78"/>
<circle class="r" cx="1020" cy="296" r="4.3" fill-opacity="0.78" stroke-opacity="0.78"/>
<circle class="r" cx="1028" cy="276" r="4.3" fill-opacity="0.78" stroke-opacity="0.78"/>
<circle class="r" cx="1147.1" cy="227.8" r="4.3"/>
<circle class="r" cx="1139.3" cy="241.8" r="4.3"/>
<circle class="r" cx="1154.5" cy="250.9" r="4.3"/>
<circle class="r" cx="1066.7" cy="300.8" r="4.3"/>
<circle class="r" cx="1023.0" cy="284.2" r="4.3"/>
<circle class="r" cx="1033.6" cy="278.3" r="4.3"/>
<circle class="r" cx="1152.6" cy="269.2" r="4.3"/>
<circle class="r" cx="1178.0" cy="290.4" r="4.3"/>
<circle class="g" cx="1462.7" cy="391.7" r="4.3" fill-opacity="0.312" stroke-opacity="0.368"/>
<circle class="g" cx="1199.2" cy="236.0" r="4.3" fill-opacity="0.429" stroke-opacity="0.506"/>
<circle class="g" cx="1176.0" cy="241.8" r="4.3" fill-opacity="0.429" stroke-opacity="0.506"/>
<circle class="g" cx="1182.6" cy="237.7" r="4.3" fill-opacity="0.429" stroke-opacity="0.506"/>
<circle class="g" cx="1184.3" cy="249.3" r="4.3" fill-opacity="0.429" stroke-opacity="0.506"/>
<circle class="g" cx="1210.7" cy="242.6" r="4.3" fill-opacity="0.429" stroke-opacity="0.506"/>
<circle class="g" cx="1166.1" cy="249.3" r="4.3" fill-opacity="0.429" stroke-opacity="0.506"/>
<circle class="g" cx="1041.9" cy="269.5" r="4.3" fill-opacity="0.429" stroke-opacity="0.506"/>
<circle class="g" cx="1065.5" cy="271.3" r="4.3" fill-opacity="0.429" stroke-opacity="0.506"/>
<circle class="g" cx="1076.7" cy="269.5" r="4.3" fill-opacity="0.429" stroke-opacity="0.506"/>
<circle class="g" cx="1091.5" cy="269.5" r="4.3" fill-opacity="0.429" stroke-opacity="0.506"/>
<circle class="g" cx="1100.9" cy="273.6" r="4.3" fill-opacity="0.429" stroke-opacity="0.506"/>
<circle class="g" cx="1076.7" cy="282.5" r="4.3" fill-opacity="0.429" stroke-opacity="0.506"/>
<circle class="g" cx="1078.5" cy="285.4" r="4.3" fill-opacity="0.429" stroke-opacity="0.506"/>
<circle class="g" cx="1087.9" cy="283.1" r="4.3" fill-opacity="0.429" stroke-opacity="0.506"/>
<circle class="g" cx="1097.4" cy="290.1" r="4.3" fill-opacity="0.429" stroke-opacity="0.506"/>
<circle class="g" cx="1086.7" cy="294.9" r="4.3" fill-opacity="0.429" stroke-opacity="0.506"/>
<circle class="g" cx="1074.9" cy="297.2" r="4.3" fill-opacity="0.429" stroke-opacity="0.506"/>
<circle class="g" cx="1018.3" cy="310.2" r="4.3" fill-opacity="0.429" stroke-opacity="0.506"/>
<circle class="g" cx="1021.8" cy="318.5" r="4.3" fill-opacity="0.429" stroke-opacity="0.506"/>
<circle class="g" cx="1076.1" cy="310.2" r="4.3" fill-opacity="0.429" stroke-opacity="0.506"/>
<circle class="g" cx="1066.7" cy="313.8" r="4.3" fill-opacity="0.429" stroke-opacity="0.506"/>
<circle class="g" cx="1054.9" cy="318.5" r="4.3" fill-opacity="0.429" stroke-opacity="0.506"/>
<circle class="g" cx="1092.6" cy="310.2" r="4.3" fill-opacity="0.429" stroke-opacity="0.506"/>
<circle class="g" cx="1084.4" cy="319.7" r="4.3" fill-opacity="0.429" stroke-opacity="0.506"/>
<circle class="g" cx="1096.2" cy="313.8" r="4.3" fill-opacity="0.429" stroke-opacity="0.506"/>
<circle class="g" cx="1104.5" cy="316.1" r="4.3" fill-opacity="0.429" stroke-opacity="0.506"/>
<circle class="g" cx="1038.4" cy="330.7" r="4.3" fill-opacity="0.429" stroke-opacity="0.506"/>
<circle class="g" cx="1066.7" cy="315.3" r="4.3" fill-opacity="0.429" stroke-opacity="0.506"/>
<circle class="g" cx="1075.0" cy="310.6" r="4.3" fill-opacity="0.429" stroke-opacity="0.506"/>
<circle class="g" cx="1076.2" cy="333.1" r="4.3" fill-opacity="0.429" stroke-opacity="0.506"/>
<circle class="g" cx="1064.4" cy="340.1" r="4.3" fill-opacity="0.429" stroke-opacity="0.506"/>
<circle class="g" cx="1075.0" cy="357.9" r="4.3" fill-opacity="0.429" stroke-opacity="0.506"/>
<circle class="g" cx="1077.4" cy="364.9" r="4.3" fill-opacity="0.429" stroke-opacity="0.506"/>
<circle class="g" cx="1165.6" cy="266.2" r="4.3" fill-opacity="0.429" stroke-opacity="0.506"/>
<circle class="g" cx="1180.9" cy="268.6" r="4.3" fill-opacity="0.429" stroke-opacity="0.506"/>
<circle class="g" cx="1133.7" cy="269.2" r="4.3" fill-opacity="0.429" stroke-opacity="0.506"/>
<circle class="g" cx="1119.5" cy="269.2" r="4.3" fill-opacity="0.429" stroke-opacity="0.506"/>
<circle class="g" cx="1145.5" cy="291.6" r="4.3" fill-opacity="0.429" stroke-opacity="0.506"/>
<circle class="g" cx="1118.3" cy="300.5" r="4.3" fill-opacity="0.429" stroke-opacity="0.506"/>
<circle class="g" cx="1138.4" cy="302.2" r="4.3" fill-opacity="0.429" stroke-opacity="0.506"/>
<circle class="g" cx="1156.1" cy="309.9" r="4.3" fill-opacity="0.429" stroke-opacity="0.506"/>
<circle class="g" cx="1131.3" cy="309.3" r="4.3" fill-opacity="0.429" stroke-opacity="0.506"/>
<circle class="g" cx="1110.1" cy="323.5" r="4.3" fill-opacity="0.429" stroke-opacity="0.506"/>
<circle class="g" cx="1097.1" cy="290.4" r="4.3" fill-opacity="0.429" stroke-opacity="0.506"/>
<circle class="g" cx="1091.4" cy="362.8" r="4.3" fill-opacity="0.429" stroke-opacity="0.506"/>
<circle class="g" cx="1076.6" cy="378.1" r="4.3" fill-opacity="0.429" stroke-opacity="0.506"/>
<circle class="g" cx="1094.3" cy="391.1" r="4.3" fill-opacity="0.429" stroke-opacity="0.506"/>
<circle class="g" cx="1095.5" cy="397.6" r="4.3" fill-opacity="0.429" stroke-opacity="0.506"/>
<circle class="g" cx="1128.0" cy="362.8" r="4.3" fill-opacity="0.429" stroke-opacity="0.506"/>
<circle class="g" cx="1147.2" cy="338.9" r="4.3" fill-opacity="0.429" stroke-opacity="0.506"/>
<circle class="g" cx="1166.6" cy="349.5" r="4.3" fill-opacity="0.429" stroke-opacity="0.506"/>
<circle class="g" cx="1164.9" cy="341.3" r="4.3" fill-opacity="0.429" stroke-opacity="0.506"/>
<circle class="g" cx="1147.7" cy="370.8" r="4.3" fill-opacity="0.429" stroke-opacity="0.506"/>
<circle class="g" cx="1167.2" cy="373.1" r="4.3" fill-opacity="0.429" stroke-opacity="0.506"/>
<circle class="g" cx="1096.7" cy="405.1" r="4.3" fill-opacity="0.429" stroke-opacity="0.506"/>
<circle class="g" cx="1102.4" cy="404.2" r="4.3" fill-opacity="0.429" stroke-opacity="0.506"/>
<circle class="g" cx="1079.7" cy="408.0" r="4.3" fill-opacity="0.429" stroke-opacity="0.506"/>
<circle class="g" cx="1085.9" cy="415.1" r="4.3" fill-opacity="0.429" stroke-opacity="0.506"/>
<circle class="g" cx="1130.4" cy="413.6" r="4.3" fill-opacity="0.429" stroke-opacity="0.506"/>
<circle class="g" cx="1119.0" cy="429.1" r="4.3" fill-opacity="0.429" stroke-opacity="0.506"/>
<circle class="g" cx="1099.5" cy="431.2" r="4.3" fill-opacity="0.429" stroke-opacity="0.506"/>
<circle class="g" cx="1157.2" cy="418.0" r="4.3" fill-opacity="0.429" stroke-opacity="0.506"/>
<circle class="g" cx="1172.3" cy="433.9" r="4.3" fill-opacity="0.429" stroke-opacity="0.506"/>
<circle class="g" cx="1174.6" cy="439.1" r="4.3" fill-opacity="0.429" stroke-opacity="0.506"/>
<circle class="g" cx="1216.0" cy="268.9" r="4.3" fill-opacity="0.429" stroke-opacity="0.506"/>
<circle class="g" cx="1254.3" cy="348.0" r="4.3" fill-opacity="0.429" stroke-opacity="0.506"/>
<circle class="g" cx="1188" cy="233" r="4.3" fill-opacity="0.78" stroke-opacity="0.78"/>
<circle class="g" cx="1192" cy="238" r="4.3" fill-opacity="0.78" stroke-opacity="0.78"/>
<circle class="g" cx="1148.8" cy="250.1" r="4.3" fill-opacity="0.78" stroke-opacity="0.78"/>
<circle class="g" cx="1139.6" cy="258.5" r="4.3" fill-opacity="0.78" stroke-opacity="0.78"/>
<circle class="g" cx="1099.7" cy="269.5" r="4.3" fill-opacity="0.78" stroke-opacity="0.78"/>
<circle class="g" cx="1033.6" cy="314.3" r="4.3" fill-opacity="0.78" stroke-opacity="0.78"/>
<circle class="g" cx="1100.9" cy="298.4" r="4.3" fill-opacity="0.78" stroke-opacity="0.78"/>
<circle class="g" cx="1030" cy="285" r="4.3" fill-opacity="0.78" stroke-opacity="0.78"/>
<circle class="g" cx="1046" cy="278" r="4.3" fill-opacity="0.78" stroke-opacity="0.78"/>
<circle class="g" cx="1035" cy="292" r="4.3" fill-opacity="0.78" stroke-opacity="0.78"/>
<circle class="g" cx="1051" cy="291" r="4.3" fill-opacity="0.78" stroke-opacity="0.78"/>
<circle class="g" cx="1058" cy="295" r="4.3" fill-opacity="0.78" stroke-opacity="0.78"/>
<circle class="g" cx="1040" cy="300" r="4.3" fill-opacity="0.78" stroke-opacity="0.78"/>
<circle class="g" cx="1056" cy="303" r="4.3" fill-opacity="0.78" stroke-opacity="0.78"/>
<circle class="g" cx="1035" cy="308" r="4.3" fill-opacity="0.78" stroke-opacity="0.78"/>
<circle class="g" cx="1045" cy="310" r="4.3" fill-opacity="0.78" stroke-opacity="0.78"/>
<circle class="g" cx="1053" cy="312" r="4.3" fill-opacity="0.78" stroke-opacity="0.78"/>
<circle class="g" cx="1040" cy="318" r="4.3" fill-opacity="0.78" stroke-opacity="0.78"/>
<circle class="g" cx="1062" cy="308" r="4.3" fill-opacity="0.78" stroke-opacity="0.78"/>
<circle class="g" cx="1025" cy="296" r="4.3" fill-opacity="0.78" stroke-opacity="0.78"/>
<circle class="g" cx="1062.0" cy="327.7" r="4.3" fill-opacity="0.78" stroke-opacity="0.78"/>
<circle class="g" cx="1055.5" cy="317.7" r="4.3" fill-opacity="0.78" stroke-opacity="0.78"/>
<circle class="g" cx="1065.6" cy="368.5" r="4.3" fill-opacity="0.78" stroke-opacity="0.78"/>
<circle class="g" cx="1100.6" cy="299.3" r="4.3" fill-opacity="0.78" stroke-opacity="0.78"/>
<circle class="g" cx="1139.0" cy="312.3" r="4.3" fill-opacity="0.78" stroke-opacity="0.78"/>
<circle class="g" cx="1106.5" cy="305.8" r="4.3" fill-opacity="0.78" stroke-opacity="0.78"/>
<circle class="g" cx="1107.7" cy="311.7" r="4.3" fill-opacity="0.78" stroke-opacity="0.78"/>
<circle class="g" cx="1093.5" cy="309.3" r="4.3" fill-opacity="0.78" stroke-opacity="0.78"/>
<circle class="g" cx="1084.9" cy="384.6" r="4.3" fill-opacity="0.78" stroke-opacity="0.78"/>
<circle class="g" cx="1091.9" cy="382.9" r="4.3" fill-opacity="0.78" stroke-opacity="0.78"/>
<circle class="g" cx="1130.9" cy="390.0" r="4.3" fill-opacity="0.78" stroke-opacity="0.78"/>
<circle class="g" cx="1157.8" cy="342.4" r="4.3" fill-opacity="0.78" stroke-opacity="0.78"/>
<circle class="g" cx="1162.5" cy="343.6" r="4.3" fill-opacity="0.78" stroke-opacity="0.78"/>
<circle class="g" cx="1058" cy="280" r="4.3" fill-opacity="0.78" stroke-opacity="0.78"/>
<circle class="g" cx="1064" cy="288" r="4.3" fill-opacity="0.78" stroke-opacity="0.78"/>
<circle class="g" cx="1066" cy="306" r="4.3" fill-opacity="0.78" stroke-opacity="0.78"/>
<circle class="g" cx="1055" cy="310" r="4.3" fill-opacity="0.78" stroke-opacity="0.78"/>
<circle class="g" cx="1062" cy="316" r="4.3" fill-opacity="0.78" stroke-opacity="0.78"/>
<circle class="g" cx="1048" cy="316" r="4.3" fill-opacity="0.78" stroke-opacity="0.78"/>
<circle class="g" cx="1030" cy="312" r="4.3" fill-opacity="0.78" stroke-opacity="0.78"/>
<circle class="g" cx="1040" cy="273" r="4.3" fill-opacity="0.78" stroke-opacity="0.78"/>
<circle class="g" cx="1050" cy="275" r="4.3" fill-opacity="0.78" stroke-opacity="0.78"/>
<circle class="g" cx="1052" cy="296" r="4.3" fill-opacity="0.78" stroke-opacity="0.78"/>
<circle class="g" cx="1070" cy="315" r="4.3" fill-opacity="0.78" stroke-opacity="0.78"/>
<circle class="g" cx="1072" cy="300" r="4.3" fill-opacity="0.78" stroke-opacity="0.78"/>
<circle class="g" cx="1167.4" cy="222.0" r="4.3"/>
<circle class="g" cx="1216.5" cy="250.9" r="4.3"/>
<circle class="g" cx="1139.7" cy="253.4" r="4.3"/>
<circle class="g" cx="1133.1" cy="259.2" r="4.3"/>
<circle class="g" cx="1157.0" cy="260.8" r="4.3"/>
<circle class="g" cx="1017.1" cy="291.3" r="4.3"/>
<circle class="g" cx="1038" cy="280" r="4.3"/>
<circle class="g" cx="1052" cy="283" r="4.3"/>
<circle class="g" cx="1043" cy="290" r="4.3"/>
<circle class="g" cx="1030" cy="300" r="4.3"/>
<circle class="g" cx="1048" cy="302" r="4.3"/>
<circle class="g" cx="1145.5" cy="268.0" r="4.3"/>
<circle class="g" cx="1199.3" cy="268.3" r="4.3"/>
<circle class="g" cx="1060" cy="300" r="4.3"/>
<circle class="g" cx="1022" cy="290" r="4.3"/>
<circle class="g" cx="1045" cy="285" r="4.3"/>
<circle class="g" cx="1037" cy="298" r="4.3"/>
<text x="22.2" y="50" style="font-size:27.8px">(a)</text>
<text x="128.6" y="47" style="font-size:21.9px">The PCA analysis without borderline2-SMOTE</text>
<rect x="638.7" y="16.0" width="119.8" height="67.9" rx="4" fill="#fff" fill-opacity="0.8" stroke="#d0d0d0" stroke-width="1.3"/>
<circle cx="669.1" cy="34.2" r="5.9" fill="#ff0000"/>
<circle cx="669.1" cy="65" r="5.9" fill="#008000"/>
<text x="708" y="40.7" style="font-size:22.6px">AC</text>
<text x="707.5" y="70.9" style="font-size:22.6px">SCC</text>
<text class="tl" x="29.9" y="542.8">−1</text>
<text class="tl" x="99.8" y="559.3">0</text>
<text class="tl" x="169.4" y="576.6">1</text>
<text class="tl" x="240.3" y="593.7">2</text>
<text class="tl" x="311.7" y="611.9">3</text>
<text class="tl" x="384.9" y="629.3">4</text>
<text class="tl" x="510.3" y="598.7">−1</text>
<text class="tl" x="558.5" y="561.8">0</text>
<text class="tl" x="604.5" y="526.4">1</text>
<text class="tl" x="649.9" y="492.4">2</text>
<text class="tl" x="712" y="192.9">1.0</text>
<text class="tl" x="707.9" y="248.7">0.5</text>
<text class="tl" x="704.9" y="303.2">0.0</text>
<text class="tl" x="700.9" y="356.4">−0.5</text>
<text class="tl" x="698.1" y="407.6">−1.0</text>
<text class="al" transform="translate(199.6,602.2) rotate(13.6)" x="0" y="5.2">Scores on PC3 (7.03%)</text>
<text class="al" transform="translate(598.9,555.5) rotate(-37.1)" x="0" y="5.2">Scores on PC2 (18.98%)</text>
<text class="al" transform="translate(740.2,277.9) rotate(-87)" x="0" y="5.2">Scores on PC1 (33.14%)</text>

<text x="901.6" y="43.5" style="font-size:27.8px">(b)</text>
<text x="1027.9" y="32" style="font-size:21.9px">The PCA analysis with borderline2-SMOTE</text>
<rect x="1524.2" y="0.9" width="119.6" height="67.8" rx="4" fill="#fff" fill-opacity="0.8" stroke="#d0d0d0" stroke-width="1.3"/>
<circle cx="1554.6" cy="19.1" r="5.9" fill="#ff0000"/>
<circle cx="1554.6" cy="49.9" r="5.9" fill="#008000"/>
<text x="1593.8" y="25.7" style="font-size:22.6px">AC</text>
<text x="1593.3" y="55.9" style="font-size:22.6px">SCC</text>
<text class="tl" x="916" y="527.6">−1</text>
<text class="tl" x="989.2" y="545.5">0</text>
<text class="tl" x="1062.8" y="563.1">1</text>
<text class="tl" x="1137.1" y="581.9">2</text>
<text class="tl" x="1212.9" y="600.6">3</text>
<text class="tl" x="1290.2" y="619.3">4</text>
<text class="tl" x="1388.6" y="588.9">−1</text>
<text class="tl" x="1435.4" y="553.2">0</text>
<text class="tl" x="1480.9" y="518.5">1</text>
<text class="tl" x="1525" y="486">2</text>
<text class="tl" x="1567.1" y="452.7">3</text>
<text class="tl" x="1597.8" y="174.2">1.0</text>
<text class="tl" x="1594.2" y="232.5">0.5</text>
<text class="tl" x="1590.7" y="289.9">0.0</text>
<text class="tl" x="1586.4" y="345.5">−0.5</text>
<text class="tl" x="1583.6" y="398.9">−1.0</text>
<text class="al" transform="translate(1085.2,587.2) rotate(13.6)" x="0" y="5.2">Scores on PC3 (7.54%)</text>
<text class="al" transform="translate(1485.6,543) rotate(-37.1)" x="0" y="5.2">Scores on PC2 (18.78%)</text>
<text class="al" transform="translate(1624.9,263.2) rotate(-87)" x="0" y="5.2">Scores on PC1 (34.55%)</text>

</svg></body></html>
